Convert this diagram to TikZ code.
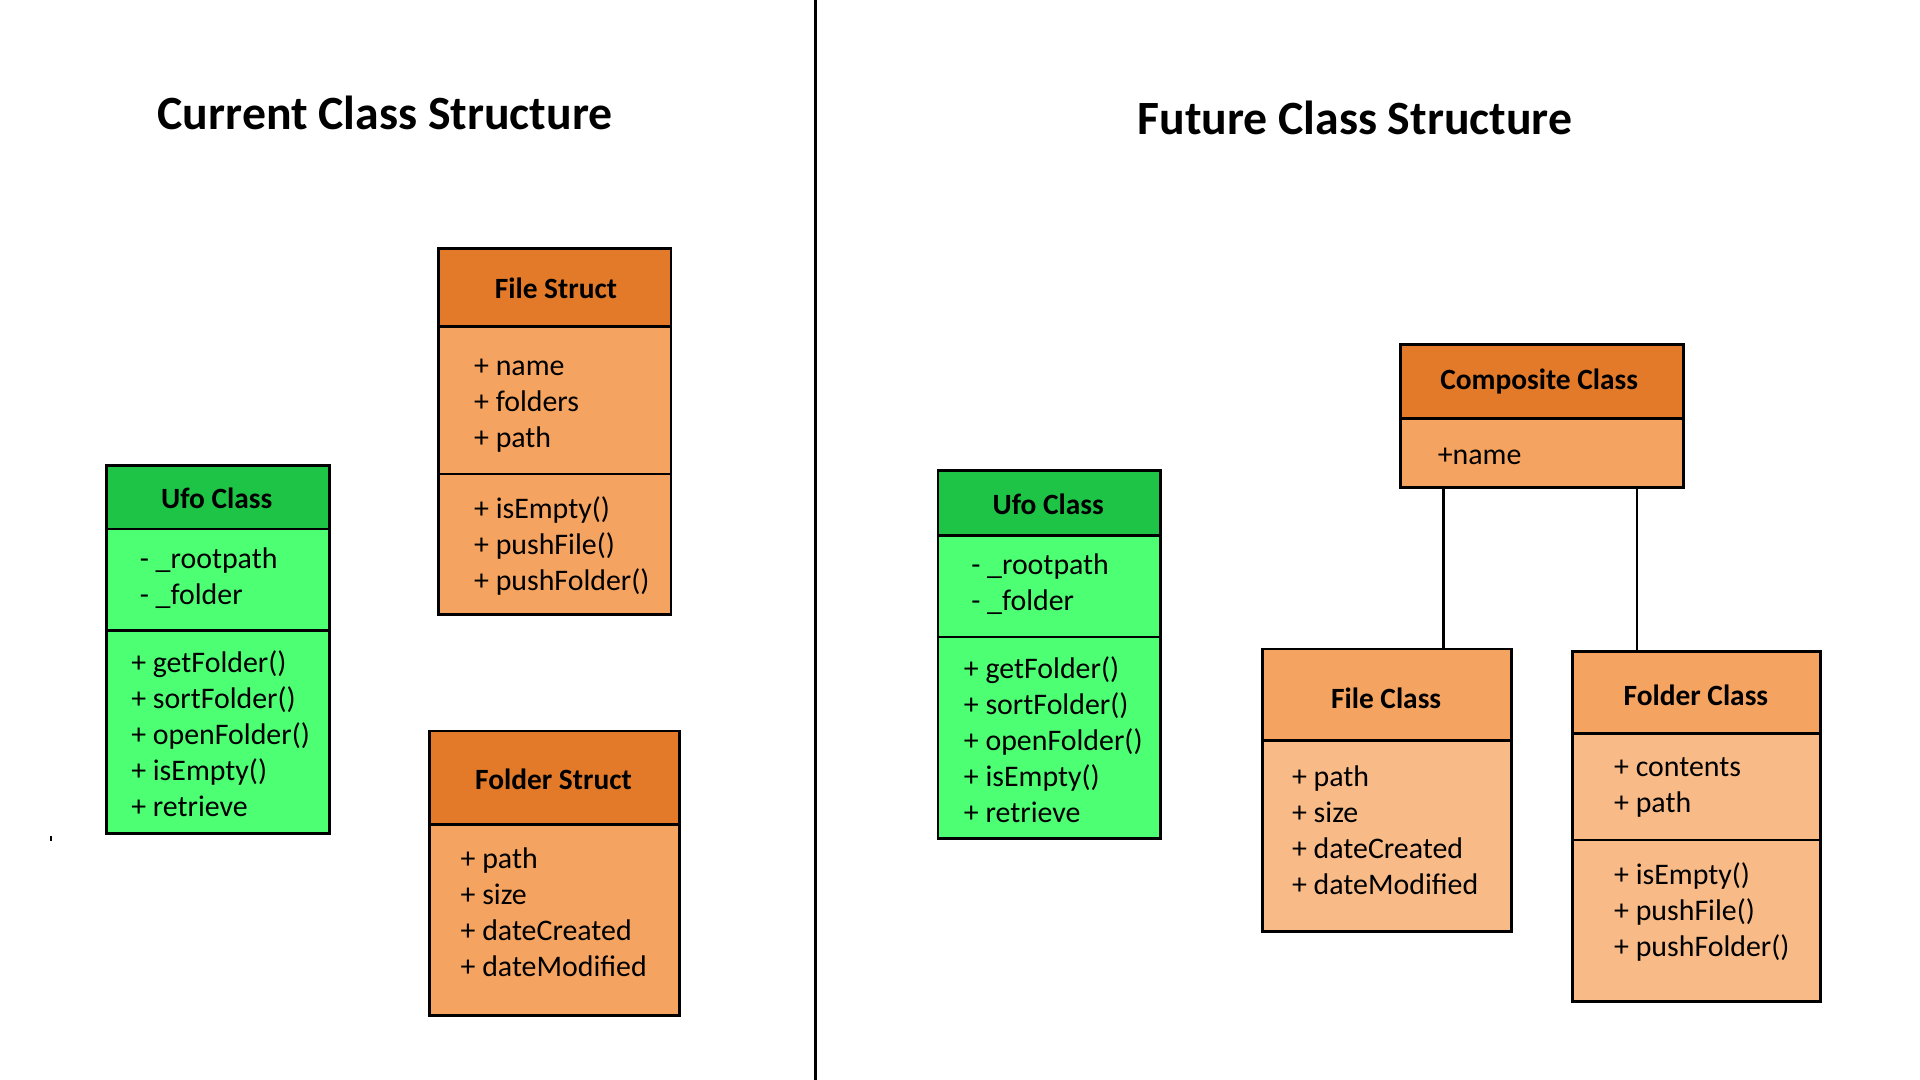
\documentclass[tikz,border=0pt]{standalone}
\usepackage{fontspec}
\setmainfont{Carlito}
\definecolor{greenhead}{HTML}{1EC446}
\definecolor{greenbody}{HTML}{4CFF73}
\definecolor{orangehead}{HTML}{E27A2A}
\definecolor{orangebody}{HTML}{F4A360}
\definecolor{lightbody}{HTML}{F8BB88}
\newcommand\bodyfont{\fontsize{24.4}{29.3}\selectfont}
\newcommand\headfont{\fontsize{24}{29.3}\selectfont\bfseries}
\newcommand\titlefont{\fontsize{39}{46}\selectfont\bfseries}
\newcommand\umlbox[8]{%
  \node[boxs, fill=#8, minimum width=#4pt, minimum height=#5pt] (#1) at (#2,#3) {};
  \node[boxs, fill=#7, minimum width=#4pt, minimum height=#6pt] (#1h) at (#2,#3) {};
}
\newcommand\memlist[4]{%
  \foreach \txt [count=\i from 0] in {#4} {
    \node[mem] (#1\i) at (#2+1.5, #3+2.5+\i*29.3) {\txt};
  }
}
\begin{document}
\begin{tikzpicture}[x=1pt, y=-1pt,
  boxs/.style={draw=black, line width=2.4pt, inner sep=0pt, outer sep=0pt, anchor=north west},
  hdr/.style={font=\headfont, anchor=base, inner sep=0pt},
  mem/.style={font=\bodyfont, anchor=base west, inner sep=0pt},
  ttl/.style={font=\titlefont, anchor=base, inner sep=0pt},
  divl/.style={line width=2pt},
  conn/.style={line width=2pt}]
\useasboundingbox (0,0) rectangle (1568,882);
\fill[white] (0,0) rectangle (1568,882);

% separator
\coordinate (septop) at (666,0);
\coordinate (sepbot) at (666,882);
\draw[line width=2pt] (septop) -- (sepbot);

% titles
\node[ttl] (t1) at (314.5,106) {Current Class Structure};
\node[ttl] (t2) at (1106.5,110) {Future Class Structure};

% tiny mark
\fill[black] (41.2,683) rectangle (42.2,686.5);

% ---- Left: Ufo Class
\umlbox{ufoL}{87}{380}{182}{301}{52}{greenhead}{greenbody}
\draw[divl] (87,515) -- (269,515);
\node[hdr] (ufoLt) at (177,415) {Ufo Class};
\memlist{ufoLa}{112.5}{462}{- \_rootpath, - \_folder}
\memlist{ufoLm}{105.5}{547}{+ getFolder(), + sortFolder(), + openFolder(), + isEmpty(), + retrieve}

% ---- Left: File Struct
\umlbox{fileS}{358}{203}{190}{299}{64}{orangehead}{orangebody}
\draw[divl] (358,387) -- (548,387);
\node[hdr] (fileSt) at (454,244) {File Struct};
\memlist{fileSa}{385.5}{304}{+ name, + folders, + path}
\memlist{fileSm}{385.5}{421}{+ isEmpty(), + pushFile(), + pushFolder()}

% ---- Left: Folder Struct
\umlbox{foldS}{351}{597}{204}{232}{76}{orangehead}{orangebody}
\node[hdr] (foldSt) at (452,645) {Folder Struct};
\memlist{foldSa}{374.5}{707}{+ path, + size, + dateCreated, + dateModified}

% ---- Right: Ufo Class
\umlbox{ufoR}{766}{384}{182}{301}{53}{greenhead}{greenbody}
\draw[divl] (766,520) -- (948,520);
\node[hdr] (ufoRt) at (856,420) {Ufo Class};
\memlist{ufoRa}{791.5}{467}{- \_rootpath, - \_folder}
\memlist{ufoRm}{785.5}{552}{+ getFolder(), + sortFolder(), + openFolder(), + isEmpty(), + retrieve}

% ---- Right: Composite Class
\umlbox{comp}{1144}{281}{231}{117}{61}{orangehead}{orangebody}
\node[hdr] (compt) at (1257,318) {Composite Class};
\memlist{compa}{1172.5}{377}{+name}

% ---- Right: File Class
\umlbox{fileC}{1031}{530}{203}{231}{75}{orangebody}{lightbody}
\node[hdr] (fileCt) at (1132,579) {File Class};
\memlist{fileCa}{1053.5}{640}{+ path, + size, + dateCreated, + dateModified}

% ---- Right: Folder Class
\umlbox{foldC}{1284}{532}{203}{286}{67}{orangebody}{lightbody}
\draw[divl] (1284,686) -- (1487,686);
\node[hdr] (foldCt) at (1385,576) {Folder Class};
\memlist{foldCa}{1316.5}{632}{+ contents, + path}
\memlist{foldCm}{1316.5}{720}{+ isEmpty(), + pushFile(), + pushFolder()}

% connectors
\coordinate (c1) at (1179,0);
\coordinate (c2) at (1337,0);
\draw[conn] (comp.south -| c1) -- (fileC.north -| c1);
\draw[conn] (comp.south -| c2) -- (foldC.north -| c2);
\end{tikzpicture}
\end{document}
